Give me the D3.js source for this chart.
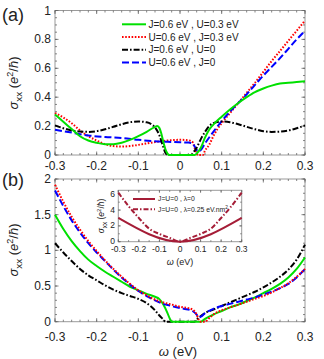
<!DOCTYPE html>
<html><head><meta charset="utf-8">
<script src="https://cdn.jsdelivr.net/npm/d3@7"></script>
<style>body{margin:0;background:#fff}svg{display:block}text{font-family:"Liberation Sans",Arial,sans-serif;fill:#222}</style>
</head><body><svg id="c" width="324" height="359"></svg>
<script>
// ---------- data ----------
const xTickLabels = ["-0.3","-0.2","-0.1","0","0.1","0.2","0.3"];
const xTicks = [-0.3,-0.2,-0.1,0,0.1,0.2,0.3];
const yTicksA = [0,0.2,0.4,0.6,0.8,1];
const yTickLabelsA = ["0","0.2","0.4","0.6","0.8","1"];
const yTicksB = [0,0.5,1,1.5,2];
const yTickLabelsB = ["0","0.5","1","1.5","2"];
const insetYTicks = [0,2,4,6];
const insetYTickLabels = ["0","2","4","6"];

const legendA = ["J=0.6 eV , U=0.3 eV","U=0.6 eV , J=0.3 eV","J=0.6 eV , U=0","U=0.6 eV , J=0"];

// panel (a) series: [omega, sigma]
const aGreen = [[-0.3,0.28],[-0.28,0.23],[-0.26,0.18],[-0.24,0.13],[-0.22,0.10],[-0.2,0.085],[-0.18,0.075],[-0.16,0.075],[-0.14,0.085],[-0.12,0.105],[-0.1,0.13],[-0.08,0.16],[-0.06,0.195],[-0.055,0.2],[-0.05,0.19],[-0.045,0.15],[-0.04,0.09],[-0.035,0.04],[-0.03,0.01],[-0.025,0],[0.035,0],[0.04,0.01],[0.05,0.05],[0.06,0.12],[0.07,0.175],[0.08,0.21],[0.1,0.265],[0.12,0.315],[0.14,0.36],[0.16,0.40],[0.18,0.435],[0.2,0.46],[0.22,0.48],[0.24,0.495],[0.26,0.5],[0.28,0.505],[0.3,0.51]];
const aRed = [[-0.3,0.29],[-0.28,0.26],[-0.26,0.22],[-0.24,0.17],[-0.22,0.13],[-0.2,0.10],[-0.18,0.075],[-0.16,0.062],[-0.14,0.058],[-0.12,0.062],[-0.1,0.07],[-0.08,0.08],[-0.06,0.09],[-0.04,0.097],[-0.02,0.103],[0,0.105],[0.02,0.102],[0.03,0.09],[0.035,0.05],[0.04,0.01],[0.045,0],[0.055,0],[0.06,0.03],[0.07,0.07],[0.08,0.13],[0.09,0.18],[0.1,0.22],[0.12,0.29],[0.14,0.36],[0.16,0.43],[0.18,0.50],[0.2,0.575],[0.22,0.65],[0.24,0.72],[0.26,0.79],[0.28,0.86],[0.3,0.93]];
const aBlack = [[-0.3,0.205],[-0.28,0.185],[-0.26,0.17],[-0.24,0.162],[-0.22,0.16],[-0.2,0.165],[-0.18,0.178],[-0.16,0.195],[-0.14,0.213],[-0.12,0.227],[-0.1,0.232],[-0.08,0.226],[-0.07,0.215],[-0.06,0.19],[-0.05,0.14],[-0.04,0.055],[-0.035,0.015],[-0.03,0],[0.028,0],[0.03,0.01],[0.04,0.05],[0.05,0.11],[0.06,0.16],[0.07,0.2],[0.08,0.22],[0.1,0.232],[0.12,0.227],[0.14,0.213],[0.16,0.195],[0.18,0.178],[0.2,0.165],[0.22,0.16],[0.24,0.162],[0.26,0.17],[0.28,0.185],[0.3,0.205]];
const aBlue = [[-0.3,0.175],[-0.26,0.155],[-0.22,0.135],[-0.18,0.125],[-0.14,0.118],[-0.1,0.105],[-0.06,0.095],[-0.02,0.09],[0,0.088],[0.02,0.086],[0.03,0.08],[0.035,0.06],[0.04,0.035],[0.045,0.025],[0.05,0.035],[0.06,0.08],[0.08,0.16],[0.1,0.235],[0.12,0.3],[0.14,0.36],[0.16,0.42],[0.18,0.485],[0.2,0.55],[0.22,0.61],[0.24,0.67],[0.26,0.735],[0.28,0.8],[0.3,0.86]];

// panel (b) series
const bGreen = [[-0.3,1.5],[-0.28,1.3],[-0.26,1.13],[-0.24,0.99],[-0.22,0.87],[-0.2,0.78],[-0.18,0.70],[-0.16,0.63],[-0.14,0.56],[-0.12,0.49],[-0.1,0.44],[-0.08,0.39],[-0.06,0.35],[-0.05,0.32],[-0.04,0.24],[-0.03,0.12],[-0.025,0.05],[-0.02,0],[0.05,0],[0.06,0.04],[0.08,0.1],[0.1,0.15],[0.12,0.2],[0.14,0.24],[0.16,0.29],[0.18,0.34],[0.2,0.40],[0.22,0.46],[0.24,0.53],[0.26,0.62],[0.28,0.74],[0.3,0.9]];
const bRed = [[-0.3,1.92],[-0.28,1.68],[-0.26,1.47],[-0.24,1.29],[-0.22,1.13],[-0.2,0.99],[-0.18,0.86],[-0.16,0.74],[-0.14,0.63],[-0.12,0.53],[-0.1,0.44],[-0.08,0.37],[-0.06,0.31],[-0.04,0.27],[-0.02,0.24],[0,0.21],[0.02,0.19],[0.03,0.17],[0.04,0.1],[0.045,0.03],[0.05,0],[0.06,0],[0.07,0.05],[0.08,0.1],[0.1,0.16],[0.12,0.2],[0.14,0.24],[0.16,0.28],[0.18,0.32],[0.2,0.36],[0.22,0.41],[0.24,0.47],[0.26,0.54],[0.28,0.63],[0.3,0.74]];
const bBlack = [[-0.3,1.1],[-0.28,0.97],[-0.26,0.85],[-0.24,0.74],[-0.22,0.65],[-0.2,0.58],[-0.18,0.51],[-0.16,0.45],[-0.14,0.40],[-0.12,0.36],[-0.1,0.32],[-0.08,0.26],[-0.06,0.16],[-0.05,0.09],[-0.04,0.03],[-0.035,0],[0.035,0],[0.04,0.03],[0.05,0.08],[0.06,0.12],[0.08,0.17],[0.1,0.22],[0.12,0.27],[0.14,0.32],[0.16,0.37],[0.18,0.42],[0.2,0.48],[0.22,0.55],[0.24,0.63],[0.26,0.73],[0.28,0.87],[0.3,1.08]];
const bBlue = [[-0.3,1.84],[-0.28,1.62],[-0.26,1.42],[-0.24,1.25],[-0.22,1.10],[-0.2,0.97],[-0.18,0.85],[-0.16,0.73],[-0.14,0.62],[-0.12,0.52],[-0.1,0.43],[-0.08,0.36],[-0.06,0.30],[-0.04,0.25],[-0.02,0.22],[0,0.19],[0.02,0.17],[0.03,0.15],[0.04,0.1],[0.045,0.06],[0.05,0.07],[0.06,0.12],[0.08,0.18],[0.1,0.22],[0.12,0.25],[0.14,0.28],[0.16,0.31],[0.18,0.34],[0.2,0.38],[0.22,0.42],[0.24,0.47],[0.26,0.53],[0.28,0.62],[0.3,0.74]];

// inset series
const insetLegend = ["J=U=0 , λ=0","J=U=0 , λ=0.25 eV.nm"];
const insetSolid = [[-0.3,3],[0,0],[0.3,3]];
const insetDash = [[-0.3,6.2],[-0.25,4.5],[-0.2,3.0],[-0.15,1.65],[-0.1,0.98],[-0.05,0.49],[0,0],[0.05,0.49],[0.1,0.98],[0.15,1.65],[0.2,3.0],[0.25,4.5],[0.3,6.2]];

// ---------- styles ----------
const S = {
  green:{stroke:"#00e000",dash:null,w:2},
  red:{stroke:"#ff0000",dash:"1.6,1.6",w:2},
  black:{stroke:"#000",dash:"6,2,1.6,2",w:2},
  blue:{stroke:"#0000ff",dash:"7,3",w:2}
};
const svg = d3.select("#c");
const x = d3.scaleLinear([-0.3,0.3],[55,305]);
const ya = d3.scaleLinear([0,1],[155,10.5]);
const yb = d3.scaleLinear([0,2],[321.7,179]);

function frame(g, xs, ys, xMajor, xMinor, yMajor, yMinor, maj, mn){
  const [x0,x1] = xs.range(), [y0,y1] = ys.range();
  g.append("rect").attr("x",x0).attr("y",y1).attr("width",x1-x0).attr("height",y0-y1).attr("fill","#fff").attr("stroke","#9a9a9a").attr("stroke-width",1);
  const t = g.append("g").attr("stroke","#666").attr("stroke-width",0.8);
  const tk = (vals,len,axis)=>vals.forEach(v=>{
    if(axis==="x"){const p=xs(v);
      t.append("line").attr("x1",p).attr("x2",p).attr("y1",y0).attr("y2",y0-len);
      t.append("line").attr("x1",p).attr("x2",p).attr("y1",y1).attr("y2",y1+len);}
    else{const p=ys(v);
      t.append("line").attr("y1",p).attr("y2",p).attr("x1",x0).attr("x2",x0+len);
      t.append("line").attr("y1",p).attr("y2",p).attr("x1",x1).attr("x2",x1-len);}
  });
  tk(xMinor,mn,"x"); tk(xMajor,maj,"x"); tk(yMinor,mn,"y"); tk(yMajor,maj,"y");
}
const rangeStep=(a,b,s)=>d3.range(Math.round(a/s),Math.round(b/s)+1).map(i=>+(i*s).toFixed(4));

function drawLine(g, data, xs, ys, st){
  const line = d3.line().x(d=>xs(d[0])).y(d=>ys(d[1])).curve(d3.curveMonotoneX);
  g.append("path").datum(data).attr("d",line).attr("fill","none").attr("stroke",st.stroke)
   .attr("stroke-width",st.w).attr("stroke-dasharray",st.dash).attr("stroke-linejoin","round");
}

function yLabel(g, cx, cy, fs){
  const t = g.append("text").attr("transform",`translate(${cx},${cy}) rotate(-90)`).attr("text-anchor","middle").attr("font-size",fs);
  t.append("tspan").attr("font-style","italic").text("σ");
  t.append("tspan").attr("font-size",fs*0.75).attr("dy",fs*0.3).text("xx");
  t.append("tspan").attr("dy",-fs*0.3).text(" (");
  t.append("tspan").attr("font-style","italic").text("e");
  t.append("tspan").attr("font-size",fs*0.7).attr("dy",-fs*0.4).text("2");
  t.append("tspan").attr("dy",fs*0.4).text("/");
  t.append("tspan").attr("font-style","italic").text("ħ");
  t.append("tspan").text(")");
}

// ---------- panel (a) ----------
const ga = svg.append("g");
frame(ga, x, ya, xTicks, rangeStep(-0.3,0.3,0.02), yTicksA, rangeStep(0,1,0.05), 3.5, 2);
const pa = ga.append("g");
drawLine(pa, aRed, x, ya, S.red);
drawLine(pa, aBlue, x, ya, S.blue);
drawLine(pa, aBlack, x, ya, S.black);
drawLine(pa, aGreen, x, ya, S.green);
xTicks.forEach((v,i)=>ga.append("text").attr("x",x(v)).attr("y",169.5).attr("text-anchor","middle").attr("font-size",12).text(xTickLabels[i]));
yTicksA.forEach((v,i)=>ga.append("text").attr("x",51).attr("y",ya(v)+4).attr("text-anchor","end").attr("font-size",12).text(yTickLabelsA[i]));
yLabel(ga, 18, 83, 13);
ga.append("text").attr("x",2).attr("y",21).attr("font-size",18).text("(a)");
// legend
const legStyles=[S.green,S.red,S.black,S.blue];
legendA.forEach((t,i)=>{
  const yy = 24.3 + i*12.7;
  ga.append("line").attr("x1",122).attr("x2",146).attr("y1",yy).attr("y2",yy).attr("stroke",legStyles[i].stroke).attr("stroke-width",2).attr("stroke-dasharray",legStyles[i].dash);
  ga.append("text").attr("x",148.5).attr("y",yy+3.6).attr("font-size",10).text(t);
});

// ---------- panel (b) ----------
const gb = svg.append("g");
frame(gb, x, yb, xTicks, rangeStep(-0.3,0.3,0.02), yTicksB, rangeStep(0,2,0.1), 3.5, 2);
const pb = gb.append("g");
drawLine(pb, bBlack, x, yb, S.black);
drawLine(pb, bGreen, x, yb, S.green);
drawLine(pb, bBlue, x, yb, S.blue);
drawLine(pb, bRed, x, yb, S.red);
xTicks.forEach((v,i)=>gb.append("text").attr("x",x(v)).attr("y",341).attr("text-anchor","middle").attr("font-size",12).text(xTickLabels[i]));
yTicksB.forEach((v,i)=>gb.append("text").attr("x",51).attr("y",yb(v)+4).attr("text-anchor","end").attr("font-size",12).text(yTickLabelsB[i]));
yLabel(gb, 18, 250, 13);
gb.append("text").attr("x",2).attr("y",186).attr("font-size",18).text("(b)");
const xl = gb.append("text").attr("x",178).attr("y",356).attr("text-anchor","middle").attr("font-size",13);
xl.append("tspan").attr("font-style","italic").text("ω");
xl.append("tspan").text(" (eV)");

// ---------- inset ----------
const xi = d3.scaleLinear([-0.3,0.3],[118.3,241.7]);
const yi = d3.scaleLinear([0,6.5],[241.7,190.3]);
const gi = svg.append("g");
frame(gi, xi, yi, xTicks, rangeStep(-0.3,0.3,0.05), insetYTicks, rangeStep(0,6,1), 2.5, 1.5);
const inStyle1={stroke:"#a51d37",dash:null,w:2}, inStyle2={stroke:"#a51d37",dash:"5,2,1.5,2",w:2};
drawLine(gi, insetSolid, xi, yi, inStyle1);
drawLine(gi, insetDash, xi, yi, inStyle2);
xTicks.forEach((v,i)=>gi.append("text").attr("x",xi(v)).attr("y",252).attr("text-anchor","middle").attr("font-size",8.5).text(xTickLabels[i]));
insetYTicks.forEach((v,i)=>gi.append("text").attr("x",115).attr("y",yi(v)+2.6).attr("text-anchor","end").attr("font-size",8.5).text(insetYTickLabels[i]));
yLabel(gi, 104, 216, 8.5);
const xl2 = gi.append("text").attr("x",180).attr("y",264.5).attr("text-anchor","middle").attr("font-size",9);
xl2.append("tspan").attr("font-style","italic").text("ω");
xl2.append("tspan").text(" (eV)");
[inStyle1,inStyle2].forEach((st,i)=>{
  const yy = 199 + i*10.3;
  gi.append("line").attr("x1",133).attr("x2",155).attr("y1",yy).attr("y2",yy).attr("stroke",st.stroke).attr("stroke-width",2).attr("stroke-dasharray",st.dash);
  const t = gi.append("text").attr("x",158).attr("y",yy+2.4).attr("font-size",6.8).text(insetLegend[i]);
  if(i===1) t.append("tspan").attr("font-size",4.8).attr("dy",-2.6).text("2");
});
</script></body></html>
